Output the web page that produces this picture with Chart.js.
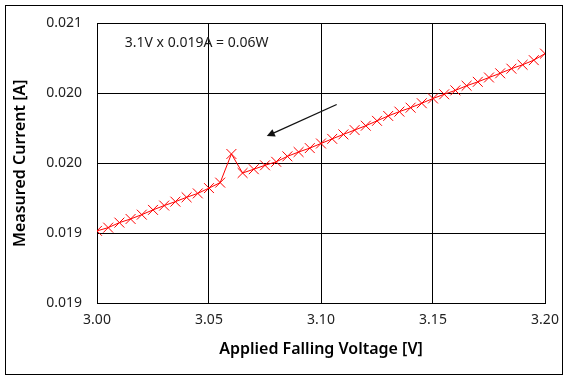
<!DOCTYPE html>
<html>
<head>
<meta charset="utf-8">
<script src="https://cdn.jsdelivr.net/npm/chart.js@4.4.0/dist/chart.umd.min.js"></script>
<style>
    html, body { margin: 0; padding: 0; background: #fff; }
    #wrap { width: 569px; height: 380px; position: relative; }
</style>
</head>
<body>
<div id="wrap"><canvas id="ivChart"></canvas></div>
<script>
// Applied voltage [V] and measured current [A]
const voltage = [
    3.000, 3.005, 3.010, 3.015, 3.020, 3.025, 3.030, 3.035, 3.040, 3.045,
    3.050, 3.055, 3.060, 3.065, 3.070, 3.075, 3.080, 3.085, 3.090, 3.095,
    3.100, 3.105, 3.110, 3.115, 3.120, 3.125, 3.130, 3.135, 3.140, 3.145,
    3.150, 3.155, 3.160, 3.165, 3.170, 3.175, 3.180, 3.185, 3.190, 3.195,
    3.200
];
const current = [
    0.019416, 0.019439, 0.019475, 0.019501, 0.019532, 0.019566, 0.019597, 0.019625, 0.019656, 0.019684,
    0.019722, 0.019761, 0.019966, 0.019830, 0.019857, 0.019885, 0.019910, 0.019949, 0.019980, 0.020008,
    0.020041, 0.020074, 0.020106, 0.020137, 0.020168, 0.020203, 0.020238, 0.020269, 0.020297, 0.020329,
    0.020363, 0.020393, 0.020421, 0.020454, 0.020482, 0.020513, 0.020543, 0.020576, 0.020604, 0.020637,
    0.020684
];
const xTicks = [3.00, 3.05, 3.10, 3.15, 3.20];
const yTicks = [0.0189, 0.0194, 0.0199, 0.0204, 0.0209];
const noteText = '3.1V x 0.019A = 0.06W';

const FONT = "'Noto Sans', 'Open Sans', sans-serif";

// outer frame + annotation text + arrow
const extras = {
    id: 'extras',
    afterDraw(chart) {
        const { ctx, scales: { x, y } } = chart;
        ctx.save();
        ctx.strokeStyle = '#000';
        ctx.lineWidth = 1;
        ctx.strokeRect(5.5, 5.5, 557, 369);

        ctx.fillStyle = '#1a1a1a';
        ctx.font = '14px ' + FONT;
        ctx.textBaseline = 'middle';
        ctx.textAlign = 'left';
        ctx.fillText(noteText, x.getPixelForValue(3.0124), y.getPixelForValue(0.020761));

        const x1 = x.getPixelForValue(3.107), y1 = y.getPixelForValue(0.02032);
        const x2 = x.getPixelForValue(3.0758), y2 = y.getPixelForValue(0.020094);
        const ang = Math.atan2(y2 - y1, x2 - x1);
        ctx.strokeStyle = '#111';
        ctx.lineWidth = 1.3;
        ctx.beginPath();
        ctx.moveTo(x1, y1);
        ctx.lineTo(x2 - 6 * Math.cos(ang), y2 - 6 * Math.sin(ang));
        ctx.stroke();
        ctx.fillStyle = '#111';
        ctx.beginPath();
        ctx.moveTo(x2, y2);
        ctx.lineTo(x2 - 8 * Math.cos(ang) + 4 * Math.sin(ang), y2 - 8 * Math.sin(ang) - 4 * Math.cos(ang));
        ctx.lineTo(x2 - 8 * Math.cos(ang) - 4 * Math.sin(ang), y2 - 8 * Math.sin(ang) + 4 * Math.cos(ang));
        ctx.closePath();
        ctx.fill();
        ctx.restore();
    }
};

new Chart(document.getElementById('ivChart'), {
    type: 'scatter',
    data: {
        datasets: [{
            data: voltage.map((v, i) => ({ x: v, y: current[i] })),
            showLine: true,
            borderColor: '#ff0000',
            borderWidth: 1,
            pointStyle: 'crossRot',
            pointRadius: 7,
            pointBorderColor: '#ff0000',
            pointBorderWidth: 1,
            pointHoverRadius: 7
        }]
    },
    options: {
        responsive: true,
        maintainAspectRatio: false,
        animation: false,
        layout: { padding: { left: 6, top: 16, right: 24, bottom: 6 } },
        plugins: { legend: { display: false }, tooltip: { enabled: false } },
        scales: {
            x: {
                type: 'linear',
                min: 3.0, max: 3.2,
                afterBuildTicks: s => { s.ticks = xTicks.map(v => ({ value: v })); },
                afterFit: s => { s.height = 71; },
                grid: { color: '#000', lineWidth: 1, drawTicks: false },
                border: { color: '#000' },
                ticks: {
                    padding: 9,
                    color: '#222',
                    font: { family: FONT, size: 14 },
                    callback: v => Number(v).toFixed(2)
                },
                title: {
                    display: true,
                    text: 'Applied Falling Voltage [V]',
                    color: '#000',
                    font: { family: FONT, size: 16, weight: '600' },
                    padding: { top: 0, bottom: 15 }
                }
            },
            y: {
                min: 0.0189, max: 0.0209,
                afterBuildTicks: s => { s.ticks = yTicks.map(v => ({ value: v })); },
                afterFit: s => { s.width = 91; },
                grid: { color: '#000', lineWidth: 1, drawTicks: false },
                border: { color: '#000' },
                ticks: {
                    padding: 15,
                    color: '#222',
                    font: { family: FONT, size: 14 },
                    callback: v => Number(v).toFixed(3)
                },
                title: {
                    display: true,
                    text: 'Measured Current [A]',
                    color: '#000',
                    font: { family: FONT, size: 16, weight: '600' },
                    padding: { top: 5, bottom: 0 }
                }
            }
        }
    },
    plugins: [extras]
});
</script>
</body>
</html>
